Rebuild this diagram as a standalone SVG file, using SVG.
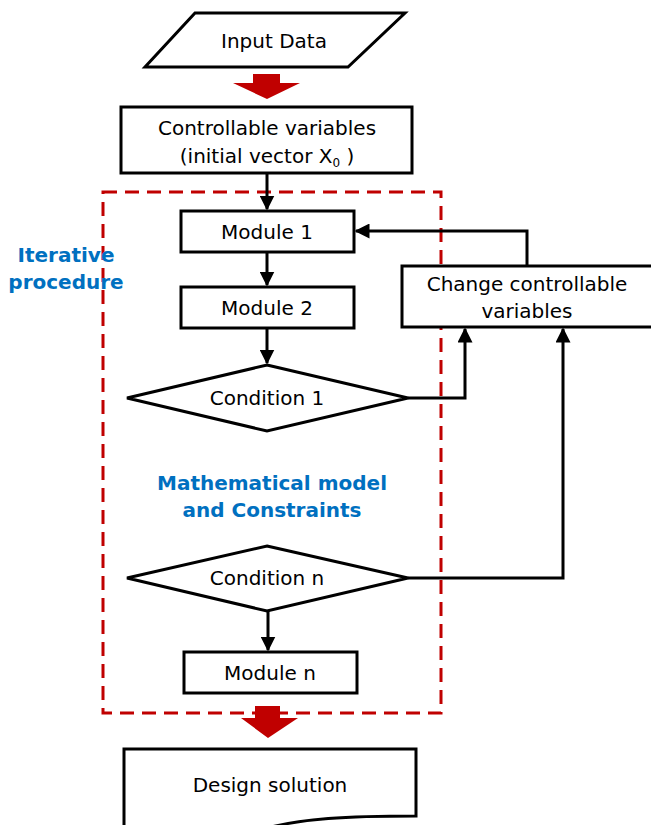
<svg xmlns="http://www.w3.org/2000/svg" width="651" height="825" viewBox="0 0 651 825">
<style>
.n{fill:#fff;stroke:#000;stroke-width:3}
.t{font-family:"DejaVu Sans",Verdana,sans-serif;font-size:20px;fill:#000;text-anchor:middle}
.b{font-family:"DejaVu Sans",Verdana,sans-serif;font-size:20px;font-weight:bold;fill:#0070C0;text-anchor:middle}
.c{fill:none;stroke:#000;stroke-width:3}
.r{fill:#C00000}
</style>
<defs>
<marker id="a" viewBox="0 0 10 10" refX="9" refY="5" markerWidth="5" markerHeight="5" orient="auto" markerUnits="strokeWidth">
<path d="M0,0 L10,5 L0,10 z" fill="#000"/>
</marker>
</defs>
<rect width="651" height="825" fill="#fff"/>
<rect x="103" y="192" width="338" height="521" fill="none" stroke="#C00000" stroke-width="3" stroke-dasharray="14,8"/>
<g id="input"><polygon class="n" points="195,13 405,13 348,67 145,67"/><text class="t" x="274" y="48">Input Data</text></g>
<g id="ctrl"><rect class="n" x="121" y="107" width="291" height="66"/><text class="t" x="267" y="135">Controllable variables</text><text class="t" x="267" y="163">(initial vector X<tspan font-size="12" dy="4">0</tspan><tspan dy="-4"> )</tspan></text></g>
<g id="m1"><rect class="n" x="181" y="211" width="173" height="41"/><text class="t" x="267" y="239">Module 1</text></g>
<g id="m2"><rect class="n" x="181" y="287" width="173" height="41"/><text class="t" x="267" y="315">Module 2</text></g>
<g id="c1"><polygon class="n" points="267,365 408,398 267,431 127,398"/><text class="t" x="267" y="405">Condition 1</text></g>
<g id="chg"><rect class="n" x="402" y="266" width="251" height="61"/><text class="t" x="527" y="291">Change controllable</text><text class="t" x="527" y="318">variables</text></g>
<g id="cn"><polygon class="n" points="267,546 408,578 267,611 127,578"/><text class="t" x="267" y="585">Condition n</text></g>
<g id="mn"><rect class="n" x="184" y="652" width="173" height="41"/><text class="t" x="270" y="680">Module n</text></g>
<g id="ds"><path class="n" d="M124,850 L124,749 L416,749 L416,816 C350,816 300,818 260,830"/><text class="t" x="270" y="792">Design solution</text></g>
<g id="lab1"><text class="b" x="66" y="262">Iterative</text><text class="b" x="66" y="289">procedure</text></g>
<g id="lab2"><text class="b" x="272" y="490">Mathematical model</text><text class="b" x="272" y="517">and Constraints</text></g>
<g id="connectors">
<polygon class="r" points="253,74 280,74 280,83 300,83 267,99 233,83 253,83"/>
<polygon class="r" points="255,706 280,706 280,718 298,718 268,738 241,718 255,718"/>
<line class="c" x1="267" y1="173" x2="267" y2="209" marker-end="url(#a)"/>
<line class="c" x1="267" y1="252" x2="267" y2="285" marker-end="url(#a)"/>
<line class="c" x1="267" y1="328" x2="267" y2="363" marker-end="url(#a)"/>
<line class="c" x1="268" y1="611" x2="268" y2="650" marker-end="url(#a)"/>
<polyline class="c" points="527,266 527,231 356,231" marker-end="url(#a)"/>
<polyline class="c" points="408,398 465,398 465,329" marker-end="url(#a)"/>
<polyline class="c" points="408,578 563,578 563,329" marker-end="url(#a)"/>
</g>
</svg>
